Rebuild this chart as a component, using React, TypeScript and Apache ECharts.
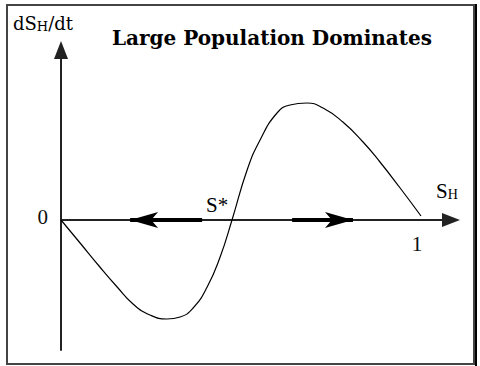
import React, { useEffect, useRef } from "react";
import * as echarts from "echarts";

// Curve dS_H/dt as a function of S_H
const curveX = [0, 0.053, 0.108, 0.156, 0.2, 0.247, 0.294, 0.331, 0.367, 0.406, 0.442, 0.475, 0.517, 0.553, 0.6, 0.636, 0.683, 0.728, 0.783, 0.839, 0.886, 0.942, 1.0];
const curveY = [0, -0.23, -0.47, -0.67, -0.84, -0.95, -0.99, -0.97, -0.88, -0.67, -0.37, 0, 0.5, 0.8, 1.07, 1.15, 1.17, 1.12, 0.98, 0.78, 0.58, 0.32, 0.04];

// Direction arrows along the S_H axis: [from, to]
const arrowLeft = [0.392, 0.192];
const arrowRight = [0.642, 0.811];

// Tick labels shown: [value, label]
const xTickValues = [1];
const xTickLabels = ["1"];
const yTickValues = [0];
const yTickLabels = ["0"];

// Annotation labels
const titleText = "Large Population Dominates";
const equilibriumLabel = "S*";
const equilibriumValue = 0.475;

export default function App() {
  const ref = useRef<HTMLDivElement>(null);
  useEffect(() => {
    if (!ref.current) return;
    const chart = echarts.init(ref.current, null, { renderer: "svg" });
    const serif = "'Liberation Serif', 'Times New Roman', serif";
    const wideSerif = "'DejaVu Serif', serif";
    chart.setOption({
      animation: false,
      backgroundColor: "#fff",
      grid: { left: 61, right: 29, top: 50, bottom: 16, outerBoundsMode: "none", containLabel: false },
      xAxis: {
        type: "value",
        min: 0,
        max: 1.0833,
        interval: 0.5,
        axisLine: {
          onZero: true,
          symbol: ["none", "triangle"],
          symbolSize: [14, 18],
          lineStyle: { color: "#222", width: 2 },
        },
        axisTick: { show: false },
        splitLine: { show: false },
        axisLabel: { show: false },
      },
      yAxis: {
        type: "value",
        min: -1.3,
        max: 1.7,
        interval: 0.1,
        axisLine: {
          onZero: true,
          symbol: ["none", "triangle"],
          symbolSize: [14, 18],
          lineStyle: { color: "#222", width: 2 },
        },
        axisTick: { show: false },
        splitLine: { show: false },
        axisLabel: { show: false },
      },
      series: [
        {
          type: "line",
          data: curveX.map((x, i) => [x, curveY[i]]),
          smooth: 0.5,
          showSymbol: false,
          lineStyle: { color: "#000", width: 1.2 },
          z: 3,
          markLine: {
            silent: true,
            symbol: ["none", "arrow"],
            symbolSize: [12, 28],
            label: { show: false },
            lineStyle: { color: "#000", width: 4, type: "solid" },
            emphasis: { disabled: true },
            data: [
              [{ coord: [arrowLeft[0], 0] }, { coord: [arrowLeft[1], 0] }],
              [{ coord: [arrowRight[0], 0] }, { coord: [arrowRight[1], 0] }],
            ],
          },
        },
      ],
    });

    const px = (x: number, y: number) => chart.convertToPixel({ gridIndex: 0 }, [x, y]) as number[];
    const graphics: any[] = [
      {
        type: "rect",
        shape: { x: 7, y: 5, width: 467, height: 359 },
        style: { fill: "none", stroke: "#444", lineWidth: 2 },
        silent: true,
      },
      {
        type: "line",
        shape: { x1: 476, y1: 4, x2: 476, y2: 366 },
        style: { stroke: "#000", lineWidth: 2 },
        silent: true,
      },
      {
        type: "text",
        x: 272,
        y: 38,
        style: {
          text: titleText,
          font: `bold 20px ${wideSerif}`,
          fill: "#000",
          align: "center",
          verticalAlign: "middle",
        },
      },
      {
        type: "text",
        x: 13,
        y: 14,
        style: {
          text: "{n|dS}{s|H}{n|/dt}",
          fill: "#000",
          align: "left",
          verticalAlign: "top",
          rich: {
            n: { fontSize: 18, fontFamily: wideSerif, lineHeight: 19, verticalAlign: "top", fill: "#000" },
            s: { fontSize: 13, fontFamily: wideSerif, lineHeight: 13, verticalAlign: "bottom", fill: "#000" },
          },
        },
      },
    ];
    // x-axis tick labels (below the axis)
    xTickValues.forEach((v, i) => {
      const p = px(v, 0);
      graphics.push({
        type: "text",
        x: p[0] - 4,
        y: p[1] + 23,
        style: { text: xTickLabels[i], font: `22px ${serif}`, fill: "#111", align: "center", verticalAlign: "middle" },
      });
    });
    // y-axis tick labels (left of the axis)
    yTickValues.forEach((v, i) => {
      const p = px(0, v);
      graphics.push({
        type: "text",
        x: p[0] - 13,
        y: p[1] - 3,
        style: { text: yTickLabels[i], font: `21px ${serif}`, fill: "#111", align: "right", verticalAlign: "middle" },
      });
    });
    // axis name S_H near the arrow tip
    const axEnd = px(1.0833, 0);
    graphics.push({
      type: "text",
      x: axEnd[0] - 15,
      y: axEnd[1] - 40,
      style: {
        text: "{n|S}{s|H}",
        fill: "#000",
        align: "left",
        verticalAlign: "top",
        rich: {
          n: { fontSize: 21, fontFamily: serif, lineHeight: 21, verticalAlign: "top", fill: "#000" },
          s: { fontSize: 14, fontFamily: serif, lineHeight: 14, verticalAlign: "bottom", fill: "#000" },
        },
      },
    });
    // equilibrium label S*
    const sp = px(equilibriumValue, 0);
    graphics.push({
      type: "text",
      x: sp[0] - 26,
      y: sp[1] - 15,
      style: { text: equilibriumLabel, font: `21px ${serif}`, fill: "#000", align: "left", verticalAlign: "middle" },
    });
    chart.setOption({ graphic: graphics });

    return () => chart.dispose();
  }, []);
  return (
    <div
      ref={ref}
      style={{ position: "fixed", left: 0, top: 0, width: 480, height: 366 }}
    />
  );
}
